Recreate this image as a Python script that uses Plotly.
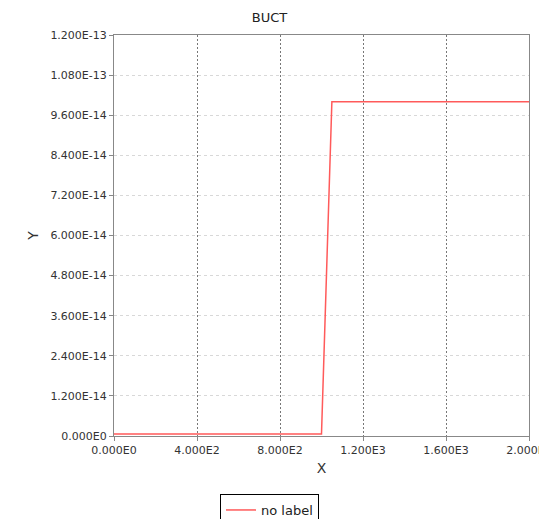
import plotly.graph_objects as go

x_vals = [0, 1000, 1050, 2000]
y_vals = [6e-16, 6e-16, 1.0e-13, 1.0e-13]

x_ticks = [0, 400, 800, 1200, 1600, 2000]
x_ticktext = ["0.000E0", "4.000E2", "8.000E2", "1.200E3", "1.600E3", "2.000E3"]
y_ticks = [i * 1.2e-14 for i in range(11)]
y_ticktext = ["0.000E0", "1.200E-14", "2.400E-14", "3.600E-14", "4.800E-14", "6.000E-14",
              "7.200E-14", "8.400E-14", "9.600E-14", "1.080E-13", "1.200E-13"]

fig = go.Figure()
fig.add_trace(go.Scatter(x=x_vals, y=y_vals, mode="lines", name="no label",
                         line=dict(color="#ff5a5a", width=1.5), showlegend=True))

font = "DejaVu Sans, sans-serif"
fig.update_layout(
    width=539, height=519,
    margin=dict(l=114, r=10, t=35, b=83),
    paper_bgcolor="white", plot_bgcolor="white",
    font=dict(family=font, size=11, color="#333333"),
    title=dict(text="BUCT", x=0.5, xref="container", xanchor="center",
               y=1 - 17 / 519, yref="container", yanchor="middle",
               font=dict(family=font, size=13, color="#222222")),
    showlegend=True,
    legend=dict(orientation="h", xref="container", yref="container",
                x=0.5, xanchor="center", y=1 - 494 / 519, yanchor="top",
                bordercolor="black", borderwidth=1, bgcolor="white",
                font=dict(family=font, size=13, color="#222222")),
    xaxis=dict(range=[0, 2000], tickvals=x_ticks, ticktext=x_ticktext,
               ticklabeloverflow="allow", automargin=False,
               showgrid=True, gridcolor="#777777", griddash="2px,2px", gridwidth=1,
               showline=True, linecolor="#888888", mirror=True, linewidth=1,
               ticks="outside", ticklen=4, tickcolor="#888888", zeroline=False,
               tickfont=dict(family=font, size=11, color="#333333"),
               title=dict(text="X", font=dict(family=font, size=14, color="#333333"), standoff=6)),
    yaxis=dict(range=[0, 1.2e-13], tickvals=y_ticks, ticktext=y_ticktext,
               automargin=False,
               showgrid=True, gridcolor="#d8d8d8", griddash="3px,3px", gridwidth=1,
               showline=True, linecolor="#888888", mirror=True, linewidth=1,
               ticks="outside", ticklen=4, tickcolor="#888888", zeroline=False,
               tickfont=dict(family=font, size=11, color="#333333"),
               title=dict(text="Y", font=dict(family=font, size=14, color="#333333"), standoff=8)),
)

fig.write_html("out.html")
